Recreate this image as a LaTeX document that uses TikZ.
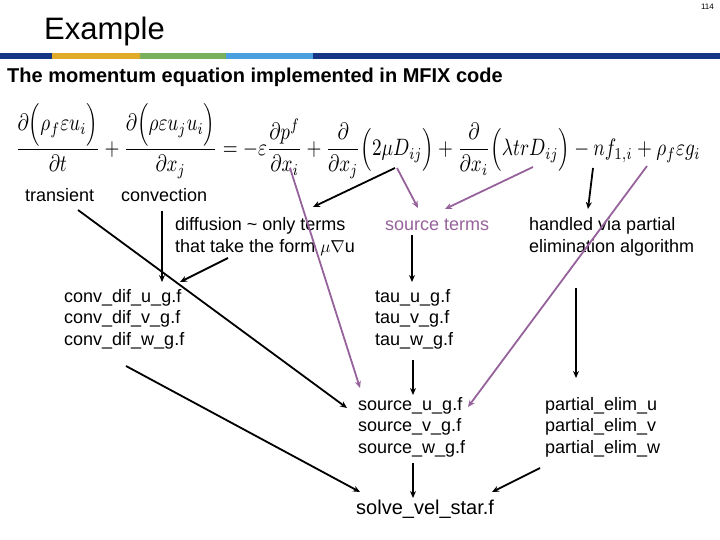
\documentclass[tikz,border=0pt]{standalone}
\usepackage{fontspec}
\setmainfont{Liberation Sans}
\usepackage{amsmath}
\usepackage{graphicx}
\usepackage{tikz}
\usetikzlibrary{arrows.meta,calc}
\definecolor{plum}{RGB}{150,98,155}
\definecolor{barnavy}{RGB}{22,52,132}
\definecolor{barorange}{RGB}{226,170,42}
\definecolor{bargreen}{RGB}{122,176,92}
\definecolor{barblue}{RGB}{72,160,224}
\tikzset{
    lbl/.style={inner sep=0pt, anchor=base west, align=left, font=\fontsize{18}{21.5}\selectfont},
    srcterm/.style={lbl, text=plum},
    arr/.style={-{Stealth[length=7pt,width=6pt]}, line width=1.8pt},
    parr/.style={arr, color=plum},
}

\begin{document}
\begin{tikzpicture}[x=1pt, y=-1pt]
    \useasboundingbox (0,0) rectangle (720,540);

    % header
    \node[inner sep=0pt, anchor=base west, font=\fontsize{31}{36}\selectfont] (title) at (44,40) {Example};
    \node[inner sep=0pt, anchor=north east, font=\fontsize{8}{9}\selectfont] (page) at (714,4) {114};
    \fill[barnavy] (0,53) rectangle (52,59);
    \fill[barorange] (52,53) rectangle (140,59);
    \fill[bargreen] (140,53) rectangle (226,59);
    \fill[barblue] (226,53) rectangle (313,59);
    \fill[barnavy] (313,53) rectangle (720,59);
    \node[lbl, font=\fontsize{20}{24}\selectfont\bfseries] (sub) at (7,83) {The momentum equation implemented in MFIX code};

    % equation
    \node[inner sep=0pt] (eq) at (358,141) {\resizebox*{685pt}{75pt}{$\displaystyle
        \frac{\partial\Bigl(\rho_f \varepsilon u_i\Bigr)}{\partial t}
        +\frac{\partial\Bigl(\rho\varepsilon u_j u_i\Bigr)}{\partial x_j}
        =-\varepsilon\frac{\partial p^f}{\partial x_i}
        +\frac{\partial}{\partial x_j}\Bigl(2\mu D_{ij}\Bigr)
        +\frac{\partial}{\partial x_i}\Bigl(\lambda trD_{ij}\Bigr)
        -nf_{1,i}+\rho_f\varepsilon g_i$}};
    \coordinate (dpdx) at (290,168);
    \coordinate (muD) at (395,168);
    \coordinate (dxmu) at (397,168);
    \coordinate (lamD) at (533,167);
    \coordinate (nf) at (593,168);
    \coordinate (grav) at (647,166);

    % labels
    \node[lbl] (transient) at (25,202) {transient};
    \node[lbl] (convection) at (121,202) {convection};
    \node[lbl] (diffusion) at (175,252) {diffusion \textasciitilde\ only terms\\that take the form $\mu\nabla$u};
    \node[srcterm] (srcterms) at (385,230) {source terms};
    \node[lbl] (handled) at (529,252) {handled via partial\\elimination algorithm};

    % routines
    \node[lbl] (convdif) at (64,345) {conv\_dif\_u\_g.f\\conv\_dif\_v\_g.f\\conv\_dif\_w\_g.f};
    \node[lbl] (tau) at (375,345) {tau\_u\_g.f\\tau\_v\_g.f\\tau\_w\_g.f};
    \node[lbl] (source) at (358,453) {source\_u\_g.f\\source\_v\_g.f\\source\_w\_g.f};
    \node[lbl] (partial) at (545,453) {partial\_elim\_u\\partial\_elim\_v\\partial\_elim\_w};
    \node[lbl, font=\fontsize{20}{24}\selectfont] (solve) at (356,514) {solve\_vel\_star.f};

    % black arrows
    \draw[arr] ($(transient.base west)+(53,8)$) -- ($(source.base west)+(-11,-45)$);
    \draw[arr] ($(convection.base west)+(41,9)$) -- ($(convdif.base west)+(98,-63)$);
    \draw[arr] ($(diffusion.base west)+(53,6)$) -- ($(convdif.base west)+(116,-63)$);
    \draw[arr] (muD) -- ($(diffusion.base west)+(138,-45)$);
    \draw[arr] (nf) -- ($(handled.base west)+(59,-43)$);
    \draw[arr] ($(srcterms.base west)+(27,5)$) -- ($(tau.base west)+(37,-63)$);
    \draw[arr] ($(handled.base west)+(47,36)$) -- ($(partial.base west)+(31,-75)$);
    \draw[arr] ($(tau.base west)+(38,15)$) -- ($(source.base west)+(55,-58)$);
    \draw[arr] ($(source.base west)+(55,10)$) -- ($(solve.base west)+(57,-16)$);
    \draw[arr] ($(convdif.base west)+(62,21)$) -- ($(solve.base west)+(4,-22)$);
    \draw[arr] ($(partial.base west)+(-5,15)$) -- ($(solve.base west)+(136,-22)$);

    % purple arrows
    \draw[parr] (dpdx) -- ($(source.base west)+(2,-65)$);
    \draw[parr] (dxmu) -- ($(srcterms.base west)+(33,-22)$);
    \draw[parr] (lamD) -- ($(srcterms.base west)+(60,-21)$);
    \draw[parr] (grav) -- ($(source.base west)+(110,-46)$);
\end{tikzpicture}
\end{document}
